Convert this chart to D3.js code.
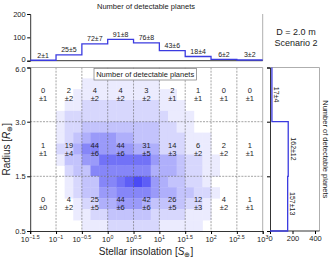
<!DOCTYPE html>
<html><head><meta charset="utf-8">
<script src="https://cdn.jsdelivr.net/npm/d3@7/dist/d3.min.js"></script>
<style>
html,body{margin:0;padding:0;background:#fff;}
svg{display:block;font-family:"Liberation Sans",Arial,sans-serif;}
</style></head>
<body><svg id="c" width="333" height="259"></svg>
<script>
// ---- data ----
const xExps = [-1.5, -1, -0.5, 0, 0.5, 1, 1.5, 2, 2.5, 3];
const xExpLabels = ["\u22121.5", "\u22121", "\u22120.5", "0", "0.5", "1", "1.5", "2", "2.5", "3"];
const radiusEdges = [0.5, 1.5, 3, 6];
const radiusLabels = ["0.5", "1.5", "3.0", "6.0"];
const topCounts = [2, 25, 72, 91, 76, 43, 18, 6, 3];
const topErrs = [1, 5, 7, 8, 8, 6, 4, 2, 2];
const topTicks = [0, 100, 200];
const rowLargeVals = [0, 2, 4, 4, 3, 2, 1, 0, 0];   // 3.0 - 6.0
const rowLargeErrs = [1, 2, 2, 2, 2, 1, 1, 1, 1];
const rowMidVals = [1, 19, 44, 44, 31, 14, 6, 2, 1]; // 1.5 - 3.0
const rowMidErrs = [1, 4, 6, 6, 5, 3, 2, 2, 1];
const rowSmallVals = [0, 4, 25, 44, 42, 26, 12, 4, 1]; // 0.5 - 1.5
const rowSmallErrs = [0, 2, 5, 6, 6, 5, 3, 2, 1];
const sideCounts = [157, 162, 17]; // bands bottom to top
const sideErrs = [13, 12, 4];
const sideTicks = [0, 200, 400];
// density shading (0-9), rows top->bottom, 27 columns (1/6 decade each)
const density = [
  "000000000000000000000000000",
  "000000111111111000000000000",
  "000001111111111110000000000",
  "000011222222222111000000000",
  "000122222222222211100000000",
  "000122333333333221100000000",
  "000123455544333222111000000",
  "000224665555444222111000000",
  "000133557777775443221100000",
  "000023366666664443221100000",
  "000012336678985433221000000",
  "000012335566665443322100000",
  "000001224455543333221000000",
  "000001122333332222111000000",
  "000000111222222111110000000"
];

// ---- layout ----
const svg = d3.select("#c");
const X0 = 30.2, X1 = 262.7;
const x = d3.scaleLog().domain([Math.pow(10, -1.5), 1000]).range([X0, X1]);
const y = d3.scaleLinear().domain(radiusEdges).range([231, 176.3, 121.7, 67.5]);
const yTop = d3.scaleLinear().domain([0, 200]).range([60.7, 14]);
const xSide = d3.scaleLinear().domain([0, 400]).range([270, 315]);
const SIDE_R = 319.5;
const blue = "#3b3be0";
const color = d3.interpolateRgb("#ffffff", "#4a4af5");
const edges = xExps.map(e => Math.pow(10, e));
const FONT = "Liberation Sans, Arial, sans-serif";

// ---- heatmap ----
const yRow = d3.scaleLinear().domain([0, 5, 10, 15]).range([y(6), y(3), y(1.5), y(0.5)]);
const heat = svg.append("g");
density.forEach((row, r) => {
  row.split("").forEach((ch, c) => {
    const L = +ch;
    if (L === 0) return;
    const xa = x(Math.pow(10, -1.5 + c / 6)), xb = x(Math.pow(10, -1.5 + (c + 1) / 6));
    heat.append("rect").attr("x", xa).attr("y", yRow(r)).attr("width", xb - xa + 0.4)
      .attr("height", yRow(r + 1) - yRow(r) + 0.4).attr("fill", color(L / 9));
  });
});

// grid lines
const grid = svg.append("g").attr("stroke", "#666").attr("stroke-width", 0.6).attr("stroke-dasharray", "2,1.2");
edges.slice(1, -1).forEach(v => grid.append("line").attr("x1", x(v)).attr("x2", x(v)).attr("y1", y(6)).attr("y2", y(0.5)));
[1.5, 3].forEach(v => grid.append("line").attr("x1", X0).attr("x2", X1).attr("y1", y(v)).attr("y2", y(v)));

// main spines
svg.append("line").attr("x1", X0).attr("x2", X1).attr("y1", y(6)).attr("y2", y(6)).attr("stroke", "#999").attr("stroke-width", 0.8);
svg.append("line").attr("x1", X1).attr("x2", X1).attr("y1", y(6)).attr("y2", y(0.5)).attr("stroke", "#999").attr("stroke-width", 0.8);

// main axes
const yAxis = d3.axisLeft(y).tickValues(radiusEdges).tickFormat((d, i) => radiusLabels[i]).tickSize(3).tickPadding(1.5);
const gy = svg.append("g").attr("transform", `translate(${X0},0)`).call(yAxis);
gy.selectAll("text").attr("font-size", 7.5).attr("font-family", FONT).attr("fill", "#222")
  .attr("dy", d => d === 6 ? "0.55em" : "0.32em");
gy.select(".domain").attr("stroke", "#000").attr("stroke-width", 0.8);

const xAxis = d3.axisBottom(x).tickValues(edges).tickFormat("").tickSize(3);
const gx = svg.append("g").attr("transform", `translate(0,${y(0.5)})`).call(xAxis);
gx.select(".domain").attr("stroke", "#000").attr("stroke-width", 0.8);
edges.forEach((v, i) => {
  const t = svg.append("text").attr("x", x(v)).attr("y", 242).attr("text-anchor", "middle")
    .attr("font-size", 7.5).attr("fill", "#222");
  t.append("tspan").text("10");
  t.append("tspan").attr("dy", -3.5).attr("font-size", 5.3).text(xExpLabels[i]);
});

// cell labels
const bands = [
  {lo: 3, hi: 6, vals: rowLargeVals, errs: rowLargeErrs},
  {lo: 1.5, hi: 3, vals: rowMidVals, errs: rowMidErrs},
  {lo: 0.5, hi: 1.5, vals: rowSmallVals, errs: rowSmallErrs}
];
bands.forEach(b => {
  const cy = (y(b.lo) + y(b.hi)) / 2;
  b.vals.forEach((v, i) => {
    const cx = Math.sqrt(edges[i] * edges[i + 1]);
    const t = svg.append("text").attr("text-anchor", "middle").attr("font-size", 7.5).attr("fill", "#222");
    t.append("tspan").attr("x", x(cx)).attr("y", cy - 1.5).text(v);
    t.append("tspan").attr("x", x(cx)).attr("y", cy + 6.5).text("\u00b1" + b.errs[i]);
  });
});

// legend box
svg.append("rect").attr("x", 94).attr("y", 68.5).attr("width", 102.5).attr("height", 11.5)
  .attr("fill", "#fff").attr("stroke", "#777").attr("stroke-width", 0.7);
svg.append("text").attr("x", 145.2).attr("y", 77.3).attr("text-anchor", "middle").attr("font-size", 7.5)
  .attr("fill", "#222").text("Number of detectable planets");

// axis titles
const rl = svg.append("text").attr("transform", `translate(10,${(y(6) + y(0.5)) / 2}) rotate(-90)`)
  .attr("text-anchor", "middle").attr("font-size", 10).attr("fill", "#222");
rl.append("tspan").text("Radius [");
rl.append("tspan").attr("font-style", "italic").text("R");
rl.append("tspan").attr("dy", 2).attr("font-size", 7).text("\u2295");
rl.append("tspan").attr("dy", -2).text("]");
const xl = svg.append("text").attr("x", 146).attr("y", 255).attr("text-anchor", "middle")
  .attr("font-size", 10).attr("fill", "#222");
xl.append("tspan").text("Stellar insolation [");
xl.append("tspan").attr("font-style", "italic").text("S");
xl.append("tspan").attr("dy", 2).attr("font-size", 7).text("\u2295");
xl.append("tspan").attr("dy", -2).text("]");

// ---- top panel ----
svg.append("line").attr("x1", X1).attr("x2", X1).attr("y1", yTop(200)).attr("y2", yTop(0)).attr("stroke", "#999").attr("stroke-width", 0.8);
const gTop = svg.append("g").attr("transform", `translate(${X0},0)`)
  .call(d3.axisLeft(yTop).tickValues(topTicks).tickSize(3).tickPadding(1.5));
gTop.selectAll("text").attr("font-size", 7.5).attr("font-family", FONT).attr("fill", "#222")
  .attr("dy", d => d === 0 ? "0.1em" : "0.32em");
gTop.select(".domain").attr("stroke", "#000").attr("stroke-width", 0.8);
svg.append("line").attr("x1", X0).attr("x2", X1).attr("y1", yTop(0)).attr("y2", yTop(0)).attr("stroke", "#000").attr("stroke-width", 0.8);
const topPts = [];
topCounts.forEach((v, i) => { topPts.push([edges[i], v]); topPts.push([edges[i + 1], v]); });
svg.append("path").attr("d", d3.line().x(d => x(d[0])).y(d => yTop(d[1]))(topPts))
  .attr("fill", "none").attr("stroke", blue).attr("stroke-width", 1.3);
topCounts.forEach((v, i) => {
  const cx = Math.sqrt(edges[i] * edges[i + 1]);
  svg.append("text").attr("x", x(cx)).attr("y", yTop(v) - 2.5).attr("text-anchor", "middle")
    .attr("font-size", 7).attr("fill", "#222").text(v + "\u00b1" + topErrs[i]);
});
svg.append("text").attr("x", 146).attr("y", 9).attr("text-anchor", "middle").attr("font-size", 7.5)
  .attr("fill", "#222").text("Number of detectable planets");
svg.append("text").attr("x", 296).attr("y", 35).attr("text-anchor", "middle").attr("font-size", 9).attr("fill", "#222").text("D = 2.0 m");
svg.append("text").attr("x", 296).attr("y", 46).attr("text-anchor", "middle").attr("font-size", 9).attr("fill", "#222").text("Scenario 2");

// ---- side panel ----
svg.append("line").attr("x1", xSide(0)).attr("x2", SIDE_R).attr("y1", y(6)).attr("y2", y(6)).attr("stroke", "#999").attr("stroke-width", 0.8);
svg.append("line").attr("x1", SIDE_R).attr("x2", SIDE_R).attr("y1", y(6)).attr("y2", y(0.5)).attr("stroke", "#999").attr("stroke-width", 0.8);
const gsx = svg.append("g").attr("transform", `translate(0,${y(0.5)})`)
  .call(d3.axisBottom(xSide).tickValues(sideTicks).tickSize(3).tickPadding(1.5));
gsx.selectAll("text").attr("font-size", 7.5).attr("font-family", FONT).attr("fill", "#222");
gsx.select(".domain").remove();
svg.append("line").attr("x1", xSide(0)).attr("x2", SIDE_R).attr("y1", y(0.5)).attr("y2", y(0.5)).attr("stroke", "#000").attr("stroke-width", 0.8);
const gsy = svg.append("g").attr("transform", `translate(${xSide(0)},0)`)
  .call(d3.axisLeft(y).tickValues(radiusEdges).tickFormat("").tickSize(3));
gsy.select(".domain").attr("stroke", "#000").attr("stroke-width", 0.8);
const sidePts = [[0, 0.5]];
sideCounts.forEach((v, i) => { sidePts.push([v, radiusEdges[i]]); sidePts.push([v, radiusEdges[i + 1]]); });
svg.append("path").attr("d", d3.line().x(d => xSide(d[0])).y(d => y(d[1]))(sidePts))
  .attr("fill", "none").attr("stroke", blue).attr("stroke-width", 1.3);
sideCounts.forEach((v, i) => {
  const cy = (y(radiusEdges[i]) + y(radiusEdges[i + 1])) / 2;
  svg.append("text").attr("transform", `translate(${xSide(v) + 2.5},${cy}) rotate(90)`)
    .attr("text-anchor", "middle").attr("font-size", 7).attr("fill", "#222").text(v + "\u00b1" + sideErrs[i]);
});
svg.append("text").attr("transform", `translate(323,${(y(6) + y(0.5)) / 2}) rotate(90)`)
  .attr("text-anchor", "middle").attr("font-size", 7.5).attr("fill", "#222").text("Number of detectable planets");
</script></body></html>
